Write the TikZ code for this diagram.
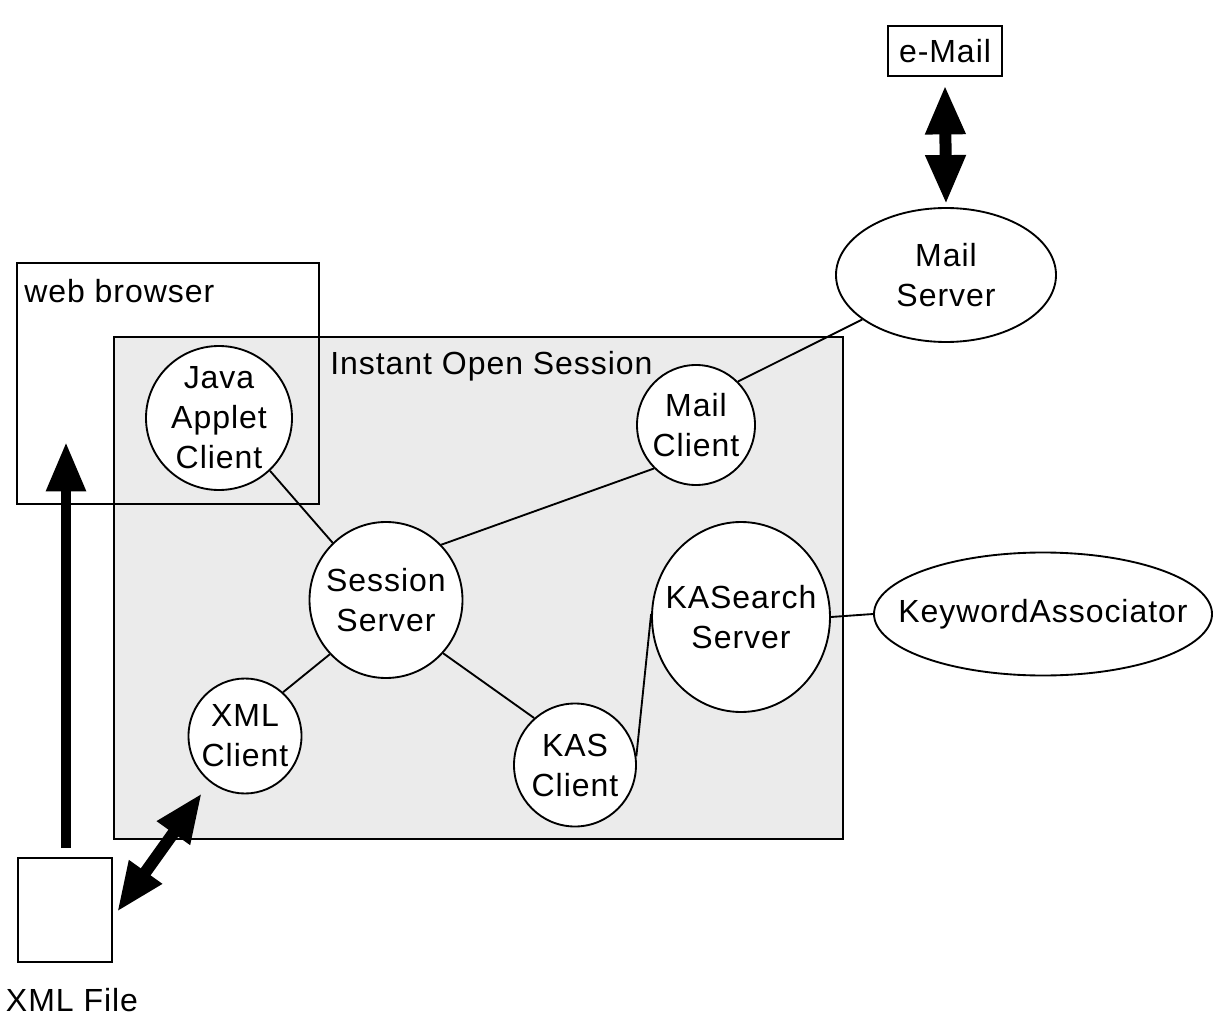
\documentclass[tikz,border=0pt]{standalone}
\usepackage{fontspec}
\setmainfont{Liberation Sans}[LetterSpace=3]
\usetikzlibrary{arrows.meta,shapes.geometric}
\newcommand\pxu{0.75pt}
\definecolor{iosgray}{RGB}{235,235,235}
\begin{document}
\begin{tikzpicture}[x=0.75pt,y=-0.75pt,
  every node/.style={font=\fontsize{24}{30}\selectfont},
  lbl/.style={align=center, inner sep=0pt},
  edge/.style={line width=1.4pt},
  bubble/.style={draw, line width=1.4pt, fill=white, ellipse, inner sep=0pt},
  frame/.style={draw, line width=1.6pt, inner sep=0pt, anchor=north west},
  bigarrow/.style={line width=8pt, -{Triangle[width=28pt,length=37pt]}},
  bigdouble/.style={line width=9pt, {Triangle[width=28pt,length=37pt]}-{Triangle[width=28pt,length=37pt]}},
]
\useasboundingbox (0,0) rectangle (1214,1016);

% frames
\node[frame, fill=iosgray, minimum width=729*\pxu, minimum height=502*\pxu] (ios) at (113,336) {};
\node[anchor=base west, inner sep=0pt] (iosl) at (330,374) {Instant Open Session};
\node[frame, minimum width=302*\pxu, minimum height=241*\pxu] (web) at (16,262) {};
\node[anchor=base west, inner sep=0pt] (webl) at (24,303) {web browser};
\node[frame, minimum width=94*\pxu, minimum height=104*\pxu] (xmlfile) at (17,857) {};
\node[anchor=base, inner sep=0pt] (xmlfilel) at (72,1011) {XML File};
\node[draw, line width=1.6pt, inner sep=0pt, minimum width=114*\pxu, minimum height=50*\pxu] (email) at (945,51) {e-Mail};

% bubbles
\node[bubble, minimum width=146*\pxu, minimum height=144*\pxu, label={[lbl]center:Java\\Applet\\Client}] (java) at (219,418) {};
\node[bubble, minimum width=118*\pxu, minimum height=120*\pxu, label={[lbl]center:Mail\\Client}] (mailclient) at (696,425) {};
\node[bubble, minimum width=153*\pxu, minimum height=156*\pxu, label={[lbl]center:Session\\Server}] (session) at (386,600) {};
\node[bubble, minimum width=178*\pxu, minimum height=190*\pxu, label={[lbl]center:KASearch\\Server}] (kasearch) at (741,617) {};
\node[bubble, minimum width=113*\pxu, minimum height=115*\pxu, label={[lbl]center:XML\\Client}] (xml) at (245,736) {};
\node[bubble, minimum width=122*\pxu, minimum height=123*\pxu, label={[lbl]center:KAS\\Client}] (kas) at (575,765) {};
\node[bubble, minimum width=220*\pxu, minimum height=134*\pxu, label={[lbl]center:Mail\\Server}] (mailserver) at (946,275) {};
\node[bubble, minimum width=338*\pxu, minimum height=123*\pxu, label={[lbl]center:KeywordAssociator}] (keyword) at (1043,614) {};

% connectors
\draw[edge] (java.314) -- (session.133);
\draw[edge] (session.45) -- (mailclient.226);
\draw[edge] (mailclient.46) -- (mailserver.208);
\draw[edge] (session.224) -- (xml.49);
\draw[edge] (session.317) -- (kas.131);
\draw[edge] (kas.8) -- (kasearch.178);
\draw[edge] (kasearch.east) -- (keyword.west);

% big arrows
\coordinate (vbot) at (66,848);
\coordinate (vtop) at (66,442);
\draw[bigarrow] (vbot) -- (vtop);
\coordinate (dlow) at (117,912);
\coordinate (dhigh) at (202,793);
\draw[bigdouble] (dlow) -- (dhigh);
\draw[bigdouble] ([yshift=-6pt]email.south) -- ([yshift=2pt]mailserver.north);
\end{tikzpicture}
\end{document}
